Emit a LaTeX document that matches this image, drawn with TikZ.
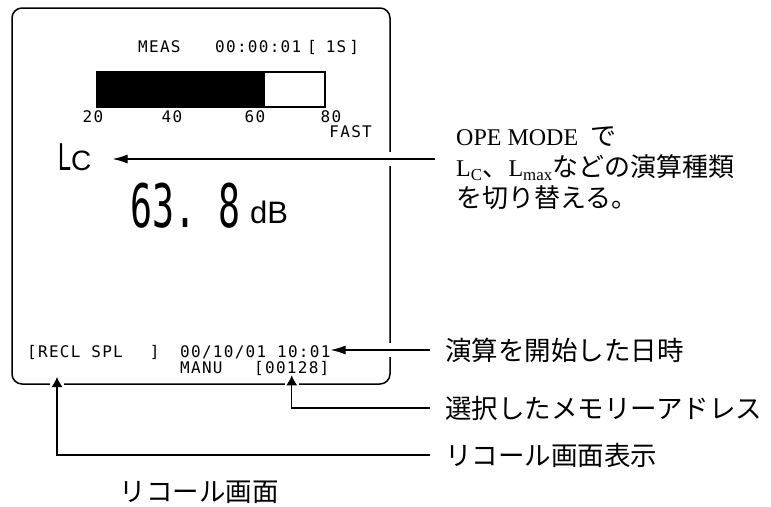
\documentclass[tikz,border=0pt]{standalone}
\usepackage{fontspec}
\setmainfont{Liberation Serif}
\newfontfamily\jpfont{Noto Sans CJK JP}
\newfontfamily\lcdfont[LetterSpace=8]{DejaVu Sans Mono}
\newfontfamily\segfont[FakeStretch=0.61]{DejaVu Sans Mono}
\newfontfamily\dispsans{Liberation Sans}
\newfontfamily\dispnarrow[FakeStretch=0.6]{Liberation Sans}
\usetikzlibrary{arrows.meta,positioning}
\newcommand{\jptext}[1]{{\jpfont\fontsize{26}{31}\selectfont #1}}
\tikzset{
  lcd/.style={font=\lcdfont\fontsize{16}{16}\selectfont, inner sep=0pt, anchor=base west},
  callout/.style={anchor=west, inner xsep=15pt, inner ysep=0pt, font=\jpfont\fontsize{26.5}{26.5}\selectfont},
  halo/.style={preaction={draw=white, line width=14pt, arrows=-}},
  hpointer/.style={halo, line width=1.2pt, -{Latex[length=15pt,width=9pt]}},
  vpointer/.style={halo, line width=1.2pt, -{Latex[length=10pt,width=11pt]}},
}

\begin{document}
\begin{tikzpicture}[x=1pt, y=-1pt]
  \useasboundingbox (0,0) rectangle (771,506);

  % Screen frame
  \draw[line width=1.5pt, rounded corners=10pt] (12,8) rectangle (390,384);

  % Status line
  \node[lcd] (meas) at (138,52) {MEAS};
  \node[lcd] (elapsed) at (215,52) {00:00:01};
  \node[lcd] (interval) at (307,52) {[\hspace{9pt}1S\hspace{3pt}]};

  % Level bar and scale
  \fill (97,72) rectangle (265,107);
  \draw[line width=1.6pt] (97,72) rectangle (325,107);
  \foreach \lv/\x in {20/93, 40/172, 60/255, 80/331}
    \node[lcd, anchor=base] (scale\lv) at (\x,122) {\lv};
  \node[lcd, anchor=base east] (speed) at (372,137) {FAST};

  % Reading
  \node[anchor=base west, inner sep=0pt] (lc) at (58,170)
    {{\dispnarrow\fontsize{39}{39}\selectfont L}{\dispsans\fontsize{28}{28}\selectfont C}};
  \node[anchor=base west, inner sep=0pt, font=\segfont\fontsize{60}{60}\selectfont] (level) at (130,227) {63.\ 8};
  \node[anchor=base west, inner sep=0pt, font=\dispsans\fontsize{31}{31}\selectfont] (unit) at (250,223) {dB};

  % Recall lines
  \node[lcd] (recl) at (27,357) {[RECL SPL\hspace{27pt}]};
  \node[lcd] (datetime) at (180,357) {00/10/01 10:01};
  \node[lcd] (manu) at (180,373) {MANU};
  \node[lcd] (addr) at (254,373) {[00128]};
  \coordinate (reclmark) at (57,377);

  % Notes
  \node[anchor=north west, align=left, inner sep=0pt, font=\fontsize{24}{31}\selectfont] (opetxt) at (456,127)
    {OPE MODE\ \ \jptext{で}\\L\textsubscript{C}\jptext{、}L\textsubscript{max}\jptext{などの演算種類}\\\jptext{を切り替える。}};
  \coordinate (opeend) at (435,159);
  \node[callout] (timelbl) at (430,350) {演算を開始した日時};
  \node[callout] (memlbl) at (430,408) {選択したメモリーアドレス};
  \node[callout] (recalllbl) at (430,455) {リコール画面表示};
  \node[font=\jpfont\fontsize{26.5}{26.5}\selectfont] (caption) at (199,492) {リコール画面};

  % Pointers
  \draw[hpointer, shorten >=21pt] (opeend) -- (opeend -| lc.east);
  \draw[hpointer] (timelbl.west) -- (timelbl.west -| datetime.east);
  \draw[vpointer] (memlbl.west) -| (addr.south);
  \draw[vpointer] (recalllbl.west) -| (reclmark);
\end{tikzpicture}
\end{document}
